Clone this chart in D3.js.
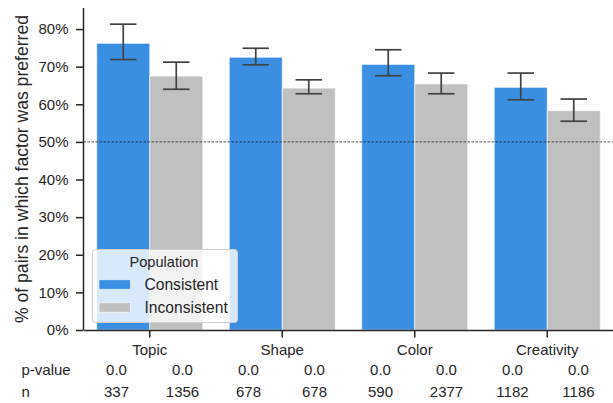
<!DOCTYPE html>
<html>
<head>
<meta charset="utf-8">
<script src="https://cdn.jsdelivr.net/npm/d3@7"></script>
<style>
  html, body { margin: 0; padding: 0; background: #fff; }
  svg { display: block; }
  text { font-family: "Liberation Sans", Arial, sans-serif; fill: #262626; }
</style>
</head>
<body>
<svg id="chart" width="613" height="403"></svg>
<script>
const categories = ["Topic", "Shape", "Color", "Creativity"];
const populations = ["Consistent", "Inconsistent"];
const consistentValues = [0.762, 0.725, 0.706, 0.645];
const consistentLow = [0.719, 0.705, 0.676, 0.612];
const consistentHigh = [0.813, 0.749, 0.745, 0.683];
const inconsistentValues = [0.675, 0.643, 0.654, 0.583];
const inconsistentLow = [0.640, 0.628, 0.628, 0.555];
const inconsistentHigh = [0.712, 0.665, 0.683, 0.614];
const yTicks = [0, 0.1, 0.2, 0.3, 0.4, 0.5, 0.6, 0.7, 0.8];
const referenceLine = 0.5;
const tableRowLabels = ["p-value", "n"];
const pValues = ["0.0", "0.0", "0.0", "0.0", "0.0", "0.0", "0.0", "0.0"];
const nValues = ["337", "1356", "678", "678", "590", "2377", "1182", "1186"];
const colors = ["#3a8fe3", "#c0c0c0"];

const rows = [];
categories.forEach((c, i) => {
  rows.push({cat: c, pop: populations[0], v: consistentValues[i], lo: consistentLow[i], hi: consistentHigh[i]});
  rows.push({cat: c, pop: populations[1], v: inconsistentValues[i], lo: inconsistentLow[i], hi: inconsistentHigh[i]});
});

const svg = d3.select("#chart");
const plotL = 83.5, plotR = 613.5, plotT = 8, plotB = 330;

const x = d3.scaleBand().domain(categories).range([plotL, plotR]).paddingInner(0).paddingOuter(0);
const xInner = d3.scaleBand().domain(populations).range([x.bandwidth() * 0.1, x.bandwidth() * 0.9]);
const y = d3.scaleLinear().domain([0, 0.856]).range([plotB, plotT]);
const color = d3.scaleOrdinal().domain(populations).range(colors);

// bars
svg.append("g").selectAll("rect").data(rows).join("rect")
  .attr("x", d => x(d.cat) + xInner(d.pop))
  .attr("width", xInner.bandwidth())
  .attr("y", d => y(d.v))
  .attr("height", d => y(0) - y(d.v))
  .attr("fill", d => color(d.pop))
  .attr("stroke", "#ffffff")
  .attr("stroke-opacity", 0.6)
  .attr("stroke-width", 1);

// reference line
svg.append("line")
  .attr("x1", plotL).attr("x2", plotR)
  .attr("y1", y(referenceLine)).attr("y2", y(referenceLine))
  .attr("stroke", "#222").attr("stroke-width", 0.8)
  .attr("stroke-dasharray", "2.5,1.5");

// error bars
const capW = xInner.bandwidth() * 0.5;
const eb = svg.append("g").attr("stroke", "#424242").attr("stroke-width", 1.7).attr("fill", "none");
rows.forEach(d => {
  const cx = x(d.cat) + xInner(d.pop) + xInner.bandwidth() / 2;
  eb.append("line").attr("x1", cx).attr("x2", cx).attr("y1", y(d.lo)).attr("y2", y(d.hi));
  eb.append("line").attr("x1", cx - capW / 2).attr("x2", cx + capW / 2).attr("y1", y(d.lo)).attr("y2", y(d.lo));
  eb.append("line").attr("x1", cx - capW / 2).attr("x2", cx + capW / 2).attr("y1", y(d.hi)).attr("y2", y(d.hi));
});

// y axis
const yAxis = svg.append("g").attr("transform", `translate(${plotL},0)`)
  .call(d3.axisLeft(y).tickValues(yTicks).tickFormat(d3.format(".0%")).tickSize(7.5).tickPadding(7.5).tickSizeOuter(0));
yAxis.select(".domain").attr("d", `M0,${plotT}V${plotB}`);
yAxis.selectAll(".domain, .tick line").attr("stroke", "#262626").attr("stroke-width", 1.5);
yAxis.selectAll("text").attr("font-size", 15).attr("fill", "#262626")
  .attr("font-family", '"Liberation Sans", Arial, sans-serif');

// x axis
const xAxis = svg.append("g").attr("transform", `translate(0,${plotB})`)
  .call(d3.axisBottom(x).tickSize(7.5).tickPadding(7).tickSizeOuter(0));
xAxis.selectAll(".domain, .tick line").attr("stroke", "#262626").attr("stroke-width", 1.5);
xAxis.selectAll("text").attr("font-size", 15).attr("fill", "#262626")
  .attr("font-family", '"Liberation Sans", Arial, sans-serif');

// y label
svg.append("text")
  .attr("transform", `translate(28,${(plotT + plotB) / 2}) rotate(-90)`)
  .attr("text-anchor", "middle")
  .attr("font-size", 17.6)
  .text("% of pairs in which factor was preferred");

// table below
const col = d3.scalePoint().domain(d3.range(pValues.length)).range([116.5, 578.5]);
const rowY = d3.scalePoint().domain(tableRowLabels).range([375, 396.5]);
svg.append("g").selectAll("text").data(tableRowLabels).join("text")
  .attr("x", 21.5).attr("y", d => rowY(d)).attr("font-size", 15).text(d => d);
svg.append("g").selectAll("text").data(pValues).join("text")
  .attr("x", (d, i) => col(i)).attr("y", rowY("p-value")).attr("text-anchor", "middle").attr("font-size", 15).text(d => d);
svg.append("g").selectAll("text").data(nValues).join("text")
  .attr("x", (d, i) => col(i)).attr("y", rowY("n")).attr("text-anchor", "middle").attr("font-size", 15).text(d => d);

// legend
const lg = svg.append("g");
lg.append("rect").attr("x", 92.5).attr("y", 249.5).attr("width", 145).attr("height", 73)
  .attr("rx", 3).attr("fill", "#ffffff").attr("fill-opacity", 0.8)
  .attr("stroke", "#d0d0d0").attr("stroke-width", 1);
lg.append("text").attr("x", 164).attr("y", 267).attr("text-anchor", "middle").attr("font-size", 14.6).text("Population");
const legY = d3.scalePoint().domain(populations).range([284.5, 307.5]);
populations.forEach(p => {
  lg.append("rect").attr("x", 99).attr("y", legY(p) - 4.8).attr("width", 31.5).attr("height", 9.6)
    .attr("fill", color(p)).attr("stroke", "#fff").attr("stroke-opacity", 0.6).attr("stroke-width", 1);
  lg.append("text").attr("x", 144.5).attr("y", legY(p) + 5.5).attr("font-size", 15.6).text(p);
});
</script>
</body>
</html>
